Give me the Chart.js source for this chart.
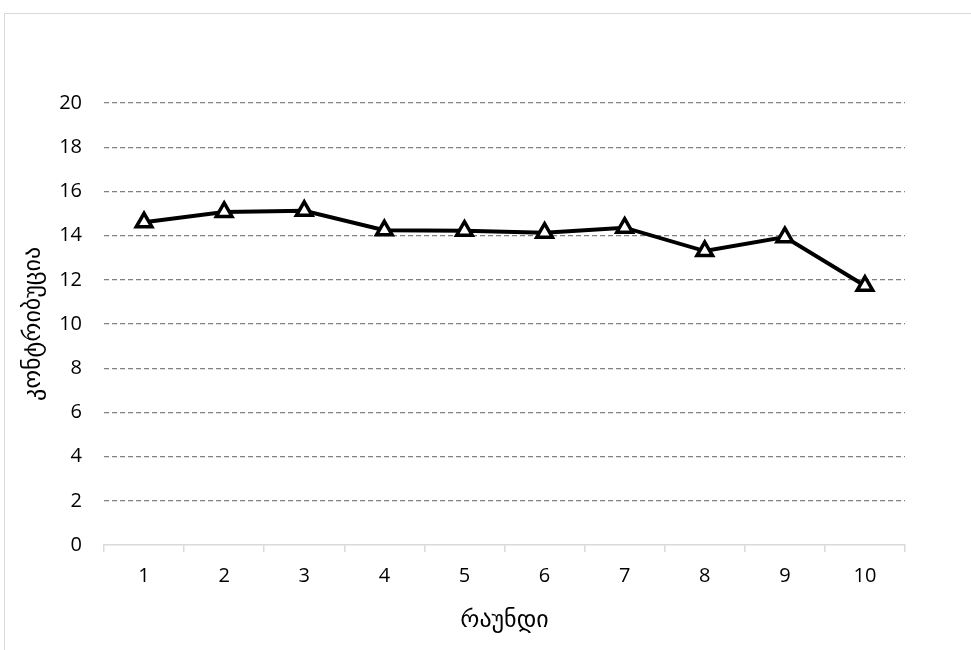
<!DOCTYPE html>
<html>
<head>
<meta charset="utf-8">
<script src="https://cdn.jsdelivr.net/npm/chart.js@4"></script>
<style>
  html, body { margin: 0; padding: 0; background: #fff; overflow: hidden; }
  #frame { position: absolute; left: 4px; top: 13px; width: 1000px; height: 700px; border: 1px solid #d9d9d9; box-sizing: border-box; }
  #wrap { position: absolute; left: 0; top: 0; width: 971px; height: 650px; }
</style>
</head>
<body>
<div id="frame"></div>
<div id="wrap"><canvas id="c" width="971" height="650"></canvas></div>
<script>
const categories = ['1', '2', '3', '4', '5', '6', '7', '8', '9', '10'];
const contribution = [14.6, 15.07, 15.12, 14.24, 14.22, 14.13, 14.36, 13.3, 13.93, 11.73];
const yTicks = [0, 2, 4, 6, 8, 10, 12, 14, 16, 18, 20];
const xTitle = 'რაუნდი';
const yTitle = 'კონტრიბუცია';

const FONT = "'Open Sans', 'DejaVu Sans', sans-serif";
const GEO_FONT = "'DejaVu Sans', 'Noto Sans', sans-serif";

new Chart(document.getElementById('c'), {
  type: 'line',
  data: {
    labels: categories,
    datasets: [{
      data: contribution,
      borderColor: '#000',
      borderWidth: 4,
      tension: 0,
      pointStyle: 'triangle',
      pointRadius: 9,
      pointHoverRadius: 9,
      pointBackgroundColor: '#fff',
      pointBorderColor: '#000',
      pointBorderWidth: 3.5
    }]
  },
  options: {
    responsive: false,
    animation: false,
    events: [],
    layout: { padding: { left: 0, top: 103, right: 66, bottom: 0 } },
    plugins: { legend: { display: false }, tooltip: { enabled: false } },
    scales: {
      x: {
        type: 'category',
        offset: true,
        grid: {
          offset: true,
          drawOnChartArea: false,
          drawTicks: true,
          tickLength: 7,
          color: '#d9d9d9',
          lineWidth: 1.5
        },
        border: { display: true, color: '#d9d9d9', width: 1.5 },
        ticks: { color: '#000', font: { family: FONT, size: 20 }, padding: 12, maxRotation: 0 },
        title: {
          display: true, text: xTitle, color: '#000',
          font: { family: GEO_FONT, size: 24 },
          padding: { top: 0, bottom: 15 }
        },
        afterFit(axis) { axis.height = 105; }
      },
      y: {
        min: 0, max: 20,
        afterBuildTicks(axis) { axis.ticks = yTicks.map(v => ({ value: v })); },
        grid: {
          drawTicks: false,
          color: (ctx) => ctx.tick && ctx.tick.value === 0 ? 'rgba(0,0,0,0)' : '#808080',
          lineWidth: 1.2
        },
        border: { display: false, dash: [5, 3] },
        ticks: { color: '#000', font: { family: FONT, size: 20 }, padding: 22 },
        title: {
          display: true, text: yTitle, color: '#000',
          font: { family: GEO_FONT, size: 24 },
          padding: { top: 19, bottom: 0 }
        },
        afterFit(axis) { axis.width = 104; }
      }
    }
  }
});
</script>
</body>
</html>
